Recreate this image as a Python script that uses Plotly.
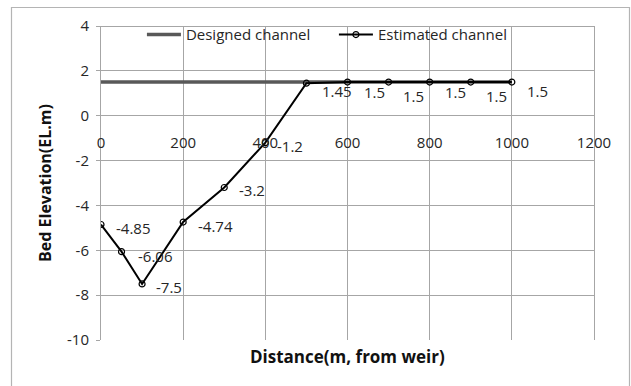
import plotly.graph_objects as go

# Bed elevation profile downstream of the weir
distance = [0, 50, 100, 200, 300, 400, 500, 600, 700, 800, 900, 1000]
estimated = [-4.85, -6.06, -7.5, -4.74, -3.2, -1.2, 1.45, 1.5, 1.5, 1.5, 1.5, 1.5]
design_distance = [0, 1000]
design_level = [1.5, 1.5]

x_ticks = [0, 200, 400, 600, 800, 1000, 1200]
y_ticks = [4, 2, 0, -2, -4, -6, -8, -10]

# pixel offsets of the value labels (right of and slightly below each point)
label_dx = [13, 14, 12, 13, 13, 10, 14, 14, 12, 13, 13, 13]
label_dy = [-4, -4, -3, -4, -3, -3, -8, -10, -14, -10, -14, -9]

FONT = "'Open Sans', sans-serif"
GRID = "#a6a6a6"
TEXT = "#262626"

fig = go.Figure()
fig.add_trace(go.Scatter(
    x=design_distance, y=design_level, mode="lines", name="Designed channel",
    line=dict(color="#595959", width=3.5),
))
fig.add_trace(go.Scatter(
    x=distance, y=estimated, mode="lines+markers", name="Estimated channel",
    line=dict(color="#000000", width=2),
    marker=dict(symbol="circle-open", size=6, color="#000000", line=dict(width=1.2)),
))

for xv, yv, dx, dy in zip(distance, estimated, label_dx, label_dy):
    fig.add_annotation(
        x=xv, y=yv, text=f"{yv:g}", showarrow=False, xanchor="left", yanchor="middle",
        xshift=dx, yshift=dy, font=dict(family=FONT, size=15, color=TEXT),
    )

fig.add_annotation(
    x=0.5, y=-0.051, xref="paper", yref="paper", text="<b>Distance(m, from weir)</b>",
    showarrow=False, xanchor="center", yanchor="middle",
    font=dict(family=FONT, size=17, color="#111111"),
)

px_w, px_h = 493, 314
# top edge of the plot frame
fig.add_shape(type="line", xref="paper", yref="paper",
              x0=0, x1=1, y0=1 - 0.5 / px_h, y1=1 - 0.5 / px_h,
              line=dict(color=GRID, width=1.2), layer="above")
# outer chart frame
fig.add_shape(type="rect", xref="paper", yref="paper",
              x0=-89.5 / px_w, x1=1 + 35.5 / px_w, y0=-0.2, y1=1 + 18.5 / px_h,
              line=dict(color="#b4b4b4", width=1.2), layer="above")

fig.update_layout(
    width=631, height=386,
    margin=dict(l=101, r=37, t=26, b=46),
    paper_bgcolor="white", plot_bgcolor="white",
    font=dict(family=FONT, size=15, color=TEXT),
    showlegend=True,
    legend=dict(orientation="h", x=0.083, y=0.972, xanchor="left", yanchor="middle",
                bgcolor="rgba(0,0,0,0)", font=dict(size=15, color=TEXT), entrywidth=143,
                entrywidthmode="pixels", tracegroupgap=0, itemwidth=34),
    xaxis=dict(
        range=[0, 1200], tickvals=x_ticks, ticktext=[str(v) for v in x_ticks],
        anchor="free", position=10 / 14, showgrid=True, gridcolor=GRID, gridwidth=1,
        zeroline=False, showline=False, ticks="", ticklabelstandoff=16,
        tickfont=dict(size=15, color=TEXT),
    ),
    # companion axis that draws the bottom edge of the plot frame
    xaxis2=dict(
        range=[0, 1200], overlaying="x", anchor="y", side="bottom",
        showline=True, mirror=True, linecolor=GRID, linewidth=1,
        showgrid=False, zeroline=False, showticklabels=False, ticks="",
    ),
    yaxis=dict(
        range=[-10, 4], tickvals=y_ticks, ticktext=[str(v) for v in y_ticks],
        showgrid=True, gridcolor=GRID, gridwidth=1, zeroline=True, zerolinecolor=GRID,
        zerolinewidth=1, showline=True, mirror=True, linecolor=GRID, linewidth=1,
        ticks="outside", ticklen=4, tickcolor=GRID,
        ticklabelstandoff=4, tickfont=dict(size=15, color=TEXT),
        title=dict(text="<b>Bed Elevation(EL.m)</b>", standoff=11,
                   font=dict(size=16, color="#111111")),
    ),
)

fig.write_html("out.html")
